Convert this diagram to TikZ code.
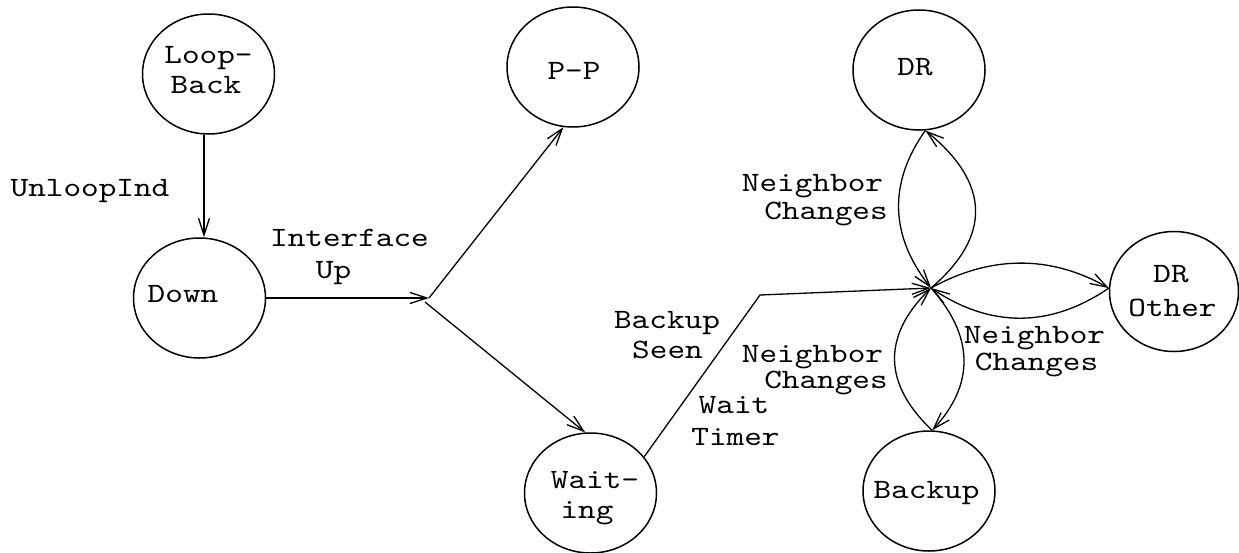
\documentclass[tikz,border=0pt]{standalone}
\usepackage{fontspec}
\newfontfamily\cour[FakeStretch=1.2]{lmmono10-regular.otf}
\usetikzlibrary{shapes.geometric,arrows.meta}
\tikzset{
  state/.style={draw, ellipse, line width=1.5pt, minimum width=132pt, minimum height=120pt, inner sep=0pt},
  txt/.style={anchor=base, inner sep=0pt, font=\cour\fontsize{28}{28}\selectfont},
  arr/.style={line width=1.3pt, -{Straight Barb[length=17pt,width=11pt]}},
  ln/.style={line width=1.3pt}
}
\begin{document}
\begin{tikzpicture}[x=1pt,y=-1pt]
\useasboundingbox (0,0) rectangle (1239,552);
% states
\node[state] (LB) at (208.5,74) {};
\node[state] (Down) at (199.5,298) {};
\node[state] (PP) at (573,67) {};
\node[state] (DR) at (919,70) {};
\node[state, minimum width=129pt] (DRO) at (1174,291.5) {};
\node[state] (WT) at (590.5,493) {};
\node[state] (BK) at (929,491) {};
% state texts
\node[txt] (tLB1) at (208.5,63) {Loop-};
\node[txt] (tLB2) at (206,93) {Back};
\node[txt] (tDown) at (183,302) {Down};
\node[txt] (tPP) at (574,79) {P-P};
\node[txt] (tDR) at (915,75) {DR};
\node[txt] (tDRO1) at (1171,282) {DR};
\node[txt] (tDRO2) at (1172.5,316) {Other};
\node[txt] (tWT1) at (595,488) {Wait-};
\node[txt] (tWT2) at (587,518) {ing};
\node[txt] (tBK) at (926.5,498) {Backup};
% edge labels
\node[txt] (lUnloop) at (90,196) {UnloopInd};
\node[txt] (lIf1) at (349.5,246) {Interface};
\node[txt] (lIf2) at (333.5,278) {Up};
\node[txt] (lN1a) at (812.5,191) {Neighbor};
\node[txt] (lN1b) at (826,219) {Changes};
\node[txt] (lBS1) at (667,328) {Backup};
\node[txt] (lBS2) at (667.5,358) {Seen};
\node[txt] (lN2a) at (812.5,362) {Neighbor};
\node[txt] (lN2b) at (826,388) {Changes};
\node[txt] (lWT1) at (734,413) {Wait};
\node[txt] (lWT2) at (735.5,445) {Timer};
\node[txt] (lN3a) at (1034.5,343) {Neighbor};
\node[txt] (lN3b) at (1036.5,370) {Changes};
% junctions
\coordinate (J) at (429,298);
\coordinate (J2) at (425,302);
\coordinate (B) at (760,295);
\coordinate (H) at (931,288);
% connectors
\draw[arr] ([xshift=-4.5pt]LB.south) -- ([xshift=4.5pt]Down.north);
\draw[arr] (Down.east) -- (J);
\draw[arr] (J) -- (PP.-99);
\draw[arr] (J2) -- (WT.95);
\draw[arr] (WT.34) -- (B) -- (H);
% DR
\draw[arr] (DR.-84) .. controls (888,183) and (890,236) .. (H);
\draw[arr] (H) .. controls (992,236) and (990,183) .. (DR.-84);
% DR Other
\draw[arr] (H) .. controls (990.7,255) and (1050.3,255) .. (DRO.177);
\draw[arr] (DRO.177) .. controls (1050.3,328) and (990.7,328) .. (H);
% Backup
\draw[arr] (BK.87) .. controls (883,384) and (882,336) .. (H);
\draw[arr] (H) .. controls (974,336) and (975,384) .. (BK.87);
\end{tikzpicture}
\end{document}
